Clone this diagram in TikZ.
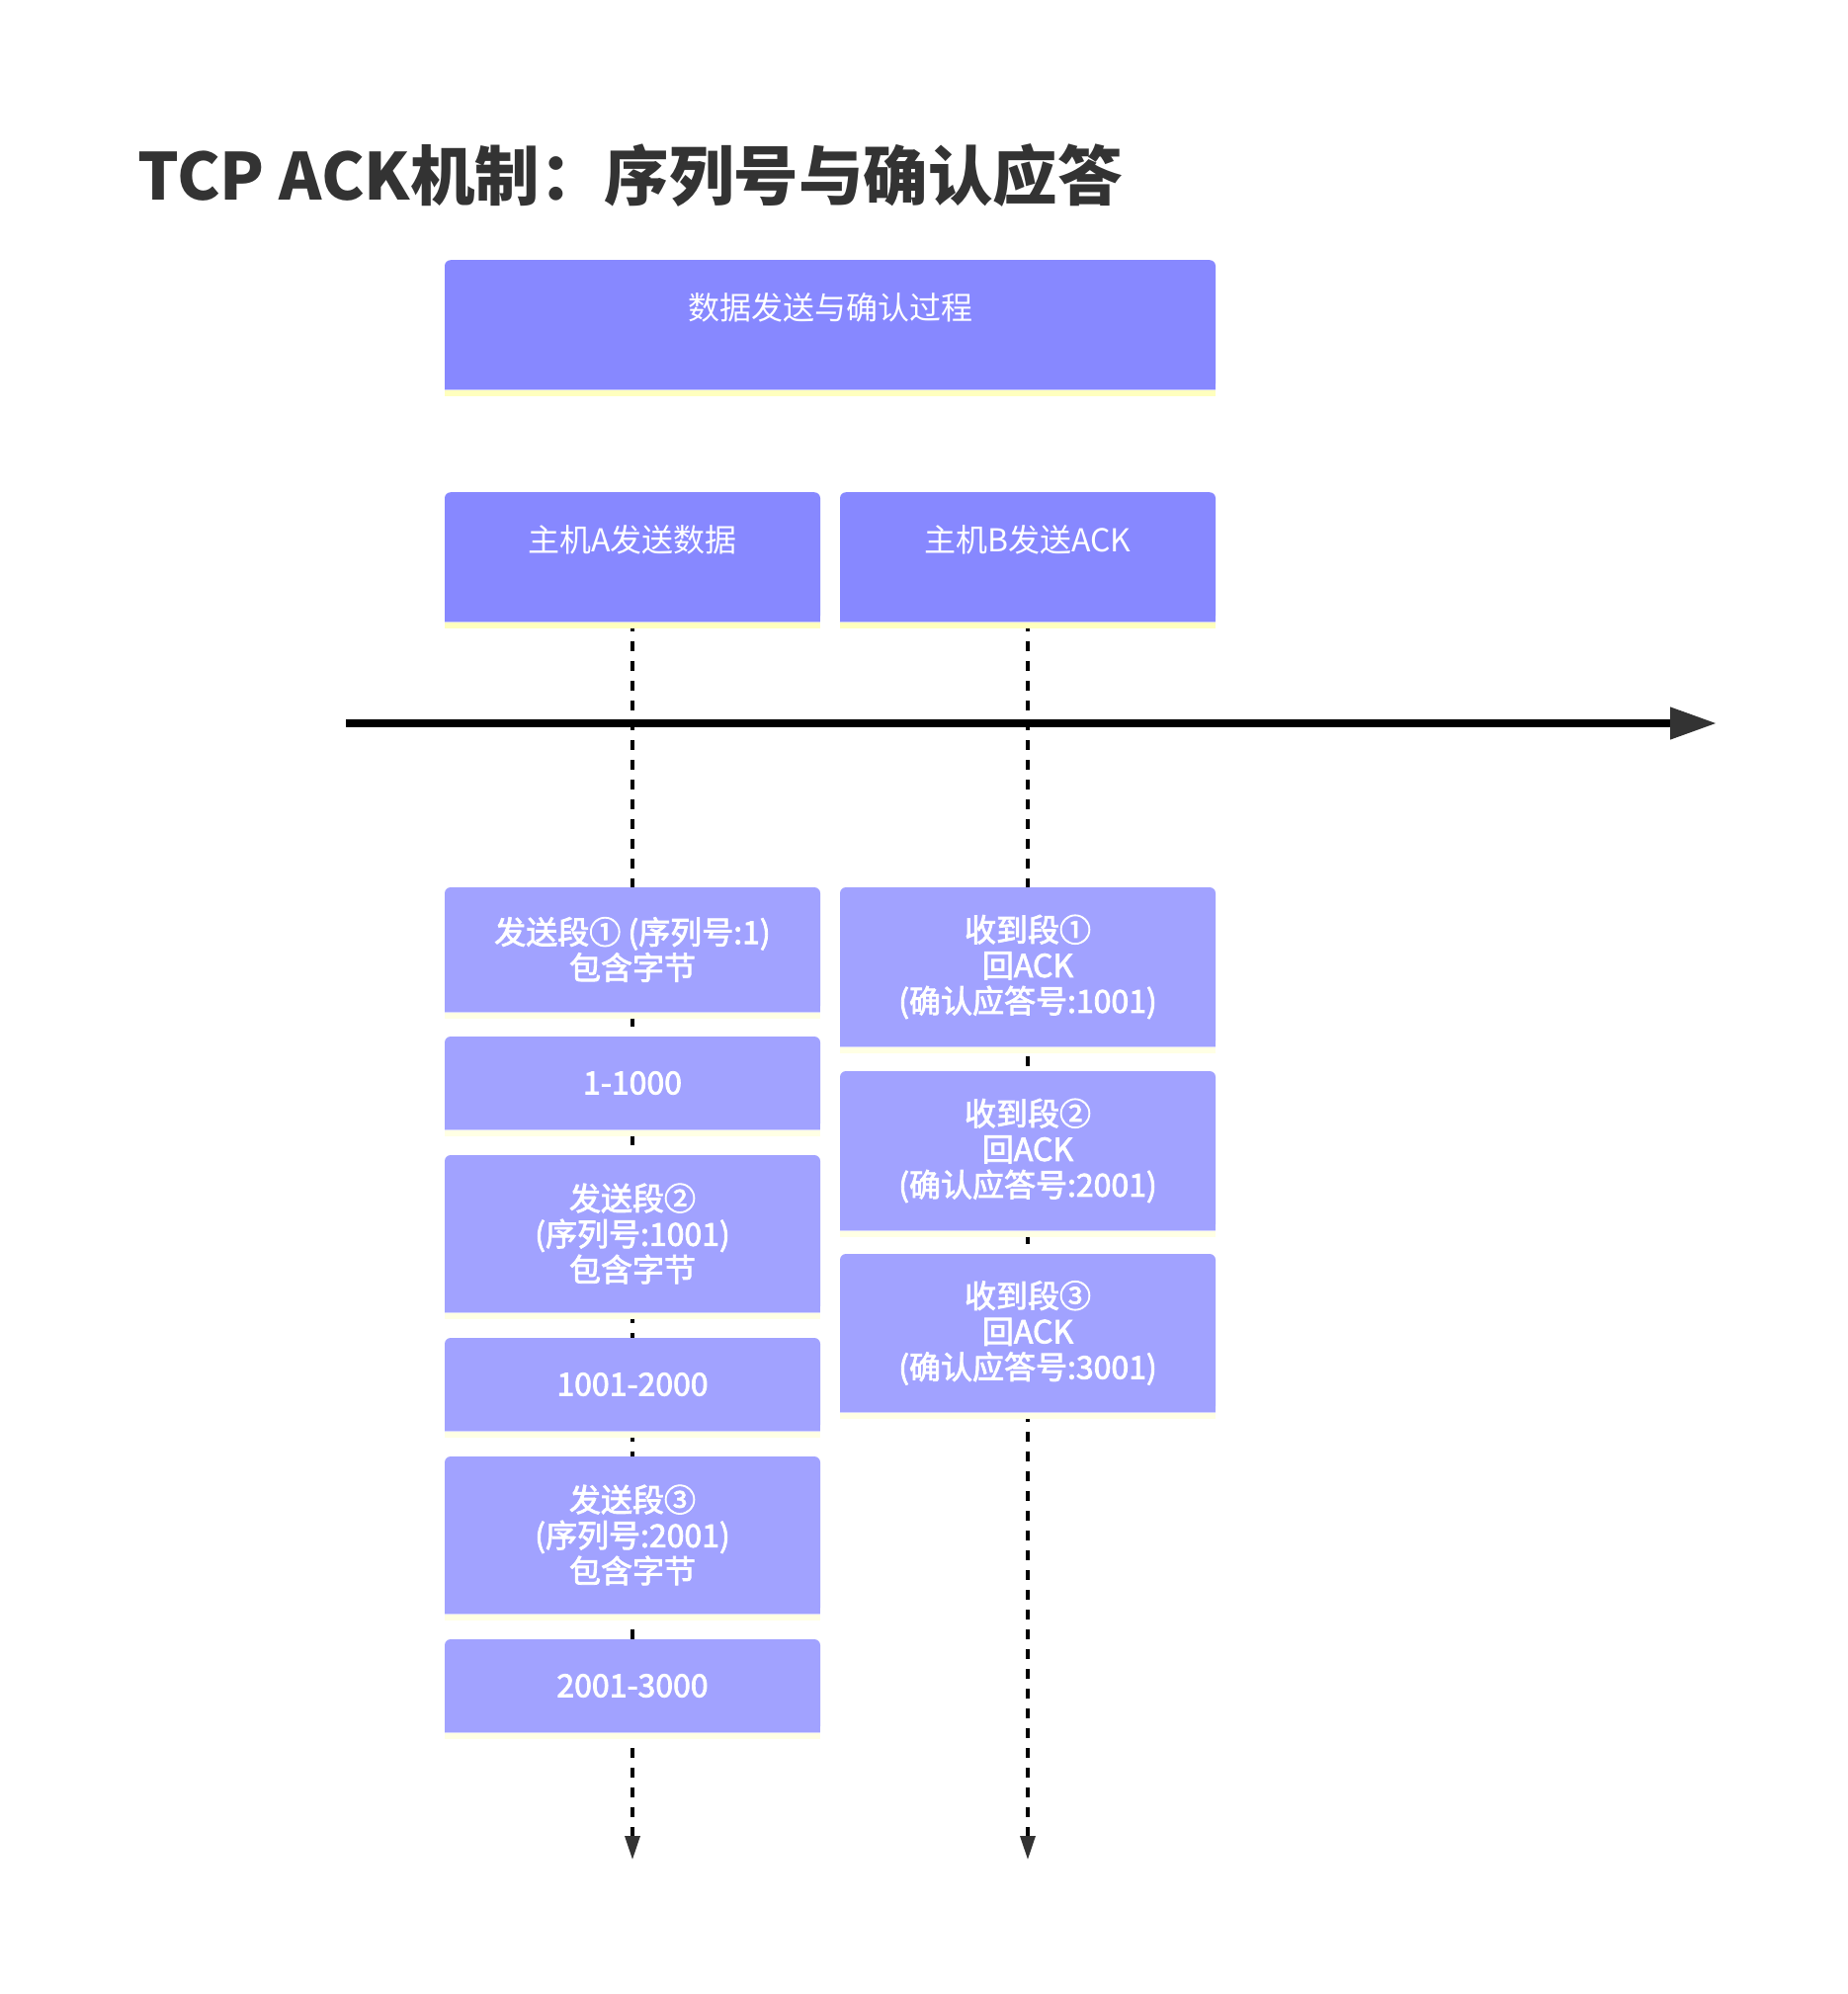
\documentclass[tikz,border=0pt]{standalone}
\usepackage{fontspec}
\setmainfont{Noto Sans CJK SC}
\newfontfamily\segfont{Noto Sans CJK SC}[FakeBold=2.5]
\usetikzlibrary{arrows.meta}

\definecolor{hostfill}{RGB}{135,136,255}
\definecolor{segfill}{RGB}{161,162,255}
\definecolor{hoststrip}{RGB}{255,255,190}
\definecolor{segstrip}{RGB}{255,255,228}
\definecolor{titlegray}{RGB}{51,51,51}
\definecolor{headgray}{RGB}{51,51,51}

\pgfdeclarelayer{background}
\pgfsetlayers{background,main}

\tikzset{
  box/.style={inner sep=0pt, rounded corners=6pt, text=white, align=center},
  hostbox/.style={box, fill=hostfill, text height=60pt, text depth=71pt,
    font=\fontsize{32}{36}\selectfont},
  segbox/.style={box, fill=segfill, minimum width=380pt,
    font=\segfont\fontsize{32}{36}\selectfont},
  lifeline/.style={black, line width=3.3pt, dash pattern=on 10pt off 10pt,
    -{Triangle[length=24pt,width=15pt,color=headgray]}},
  timeline/.style={black, line width=7.5pt,
    -{Triangle[length=47pt,width=31pt,color=headgray]}},
}

\begin{document}
\begin{tikzpicture}[x=1pt,y=-1pt]
\useasboundingbox (0,0) rectangle (1870,2018);

% heading
\node[anchor=base west, inner sep=0pt, text=titlegray,
  font=\fontsize{65.5}{74}\selectfont\bfseries] (title) at (139,202)
  {TCP ACK机制：序列号与确认应答};

% group header and the two hosts
\node[hostbox, minimum width=780pt, anchor=north] (overview) at (840,263) {数据发送与确认过程};
\node[hostbox, minimum width=380pt, anchor=north] (hostA) at (640,498) {主机A发送数据};
\node[hostbox, minimum width=380pt, anchor=north] (hostB) at (1040,498) {主机B发送ACK};

% host A: segments sent
\node[segbox, minimum height=126pt] (a1)  at (640,961)    {发送段① (序列号:1)\\包含字节};
\node[segbox, minimum height=94pt]  (a1b) at (640,1096)   {1-1000};
\node[segbox, minimum height=159pt] (a2)  at (640,1248.5) {发送段②\\(序列号:1001)\\包含字节};
\node[segbox, minimum height=94pt]  (a2b) at (640,1401)   {1001-2000};
\node[segbox, minimum height=159pt] (a3)  at (640,1553.5) {发送段③\\(序列号:2001)\\包含字节};
\node[segbox, minimum height=94pt]  (a3b) at (640,1706)   {2001-3000};

% host B: acknowledgements
\node[segbox, minimum height=161pt] (b1) at (1040,978.5)  {收到段①\\回ACK\\(确认应答号:1001)};
\node[segbox, minimum height=161pt] (b2) at (1040,1164.5) {收到段②\\回ACK\\(确认应答号:2001)};
\node[segbox, minimum height=160pt] (b3) at (1040,1349)   {收到段③\\回ACK\\(确认应答号:3001)};

% square bottom edges and the pale strip under every box
\foreach \n/\c/\s in {overview/hostfill/hoststrip, hostA/hostfill/hoststrip, hostB/hostfill/hoststrip,
    a1/segfill/segstrip, a1b/segfill/segstrip, a2/segfill/segstrip, a2b/segfill/segstrip,
    a3/segfill/segstrip, a3b/segfill/segstrip, b1/segfill/segstrip, b2/segfill/segstrip, b3/segfill/segstrip} {
  \fill[\c] ([yshift=8pt]\n.south west) rectangle (\n.south east);
  \fill[\s] (\n.south west) rectangle ([yshift=-7pt]\n.south east);
  \draw[\c!45!white, line width=1.2pt] (\n.south west) -- (\n.south east);
}

% white page and lifelines, behind the boxes
\coordinate (endA) at (640,1882);
\coordinate (endB) at (1040,1882);
\begin{pgfonlayer}{background}
  \fill[white] (0,0) rectangle (1870,2018);
  \draw[lifeline] (hostA.south) -- (endA);
  \draw[lifeline] (hostB.south) -- (endB);
\end{pgfonlayer}

% time axis
\coordinate (axisStart) at (350,732);
\coordinate (axisEnd) at (1737,732);
\draw[timeline] (axisStart) -- (axisEnd);
\end{tikzpicture}
\end{document}
